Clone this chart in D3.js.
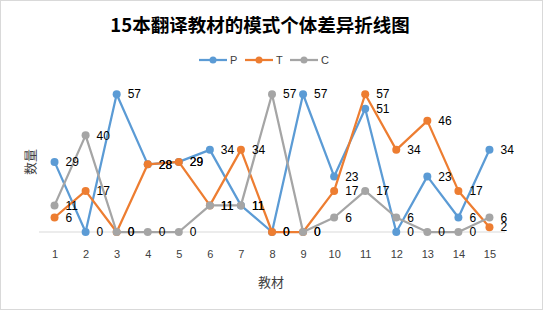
<!DOCTYPE html>
<html>
<head>
<meta charset="utf-8">
<script src="https://cdn.jsdelivr.net/npm/d3@7"></script>
<style>
  body { margin: 0; background: #fff; }
  svg { display: block; }
</style>
</head>
<body>
<div id="chart"></div>
<script>
"use strict";

// Data
const categories = ["1", "2", "3", "4", "5", "6", "7", "8", "9", "10", "11", "12", "13", "14", "15"];
const seriesNames = ["P", "T", "C"];
const valuesP = [29, 0, 57, 28, 29, 34, 11, 0, 57, 23, 51, 0, 23, 6, 34];
const valuesT = [6, 17, 0, 28, 29, 11, 34, 0, 0, 17, 57, 34, 46, 17, 2];
const valuesC = [11, 40, 0, 0, 0, 11, 11, 57, 0, 6, 17, 6, 0, 0, 6];
const colors = ["#5B9BD5", "#ED7D31", "#A5A5A5"];

const width = 543;
const height = 310;
const margin = { top: 87, right: 38, bottom: 78, left: 39 };

const svg = d3.select("#chart")
  .append("svg")
  .attr("width", width)
  .attr("height", height);

// Chart border
svg.append("rect")
  .attr("x", 0.5).attr("y", 0.5)
  .attr("width", width - 1).attr("height", height - 1)
  .attr("fill", "#fff")
  .attr("stroke", "#d9d9d9");

// Scales
const x = d3.scalePoint()
  .domain(categories)
  .range([margin.left, width - margin.right])
  .padding(0.5);

const y = d3.scaleLinear()
  .domain([0, 60])
  .range([height - margin.bottom, margin.top]);

// Title
svg.append("text")
  .attr("x", 260)
  .attr("y", 32)
  .attr("text-anchor", "middle")
  .style("font-family", "'Noto Sans CJK SC', sans-serif")
  .style("font-size", "18.5px")
  .style("font-weight", "bold")
  .style("fill", "#000")
  .text("15本翻译教材的模式个体差异折线图");

// Baseline
svg.append("line")
  .attr("x1", margin.left)
  .attr("x2", width - margin.right)
  .attr("y1", y(0))
  .attr("y2", y(0))
  .attr("stroke", "#d9d9d9")
  .attr("stroke-width", 1);

// X axis labels
const xAxis = svg.append("g")
  .attr("transform", `translate(0, ${y(0) + 14})`)
  .call(d3.axisBottom(x).tickSize(0).tickPadding(4));
xAxis.select(".domain").remove();
xAxis.selectAll("text")
  .style("font-family", "'Liberation Sans', sans-serif")
  .style("font-size", "11px")
  .style("fill", "#404040");

// Axis titles
svg.append("text")
  .attr("x", 271)
  .attr("y", 287)
  .attr("text-anchor", "middle")
  .style("font-family", "'Noto Sans CJK SC', sans-serif")
  .style("font-size", "13px")
  .style("fill", "#404040")
  .text("教材");

svg.append("text")
  .attr("transform", "translate(35, 162) rotate(-90)")
  .attr("text-anchor", "middle")
  .style("font-family", "'Noto Sans CJK SC', sans-serif")
  .style("font-size", "13px")
  .style("fill", "#404040")
  .text("数量");

// Legend
const legendX = [199, 245, 290];
seriesNames.forEach((name, i) => {
  const g = svg.append("g").attr("transform", `translate(${legendX[i]}, 60)`);
  g.append("line")
    .attr("x1", 0).attr("x2", 28)
    .attr("stroke", colors[i])
    .attr("stroke-width", 2.25);
  g.append("circle")
    .attr("cx", 14).attr("r", 3.5)
    .attr("fill", colors[i]);
  g.append("text")
    .attr("x", 31)
    .attr("dy", "0.35em")
    .style("font-family", "'Liberation Sans', sans-serif")
    .style("font-size", "11px")
    .style("fill", "#404040")
    .text(name);
});

// Lines and markers
const allSeries = [valuesP, valuesT, valuesC];
const line = d3.line()
  .x((d, i) => x(categories[i]))
  .y(d => y(d));

allSeries.forEach((vals, s) => {
  svg.append("path")
    .datum(vals)
    .attr("d", line)
    .attr("fill", "none")
    .attr("stroke", colors[s])
    .attr("stroke-width", 2.25)
    .attr("stroke-linejoin", "round");

  svg.selectAll(null)
    .data(vals)
    .join("circle")
    .attr("cx", (d, i) => x(categories[i]))
    .attr("cy", d => y(d))
    .attr("r", 4)
    .attr("fill", colors[s]);
});

// Data labels, to the right of each point
allSeries.forEach((vals, s) => {
  svg.selectAll(null)
    .data(vals)
    .join("text")
    .attr("x", (d, i) => x(categories[i]) + 11)
    .attr("y", d => y(d))
    .attr("dy", "0.35em")
    .style("font-family", "'Liberation Sans', sans-serif")
    .style("font-size", "12px")
    .style("fill", "#000")
    .text(d => d);
});
</script>
</body>
</html>
